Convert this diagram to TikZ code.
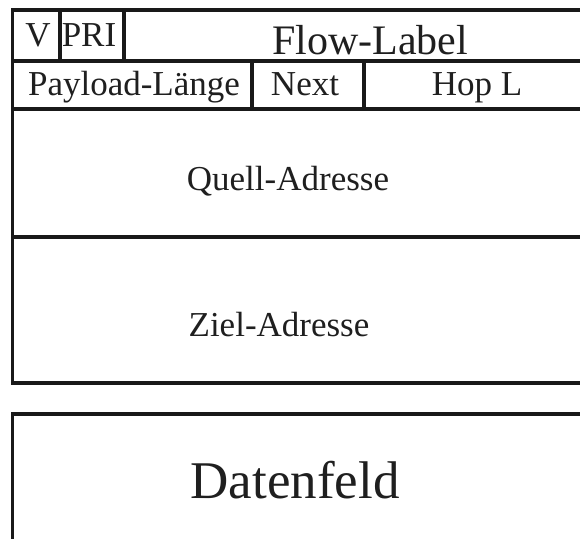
\documentclass[tikz,border=0pt]{standalone}
\usepackage{fontspec}
\setmainfont{Liberation Serif}
\begin{document}
\begin{tikzpicture}[x=1pt,y=-1pt,
  frame/.style={line width=3.8pt,draw=black!90},
  lbl/.style={inner sep=0pt,anchor=base,text=black!88},
  fmid/.style={lbl,font=\fontsize{35}{40}\selectfont},
  fbig/.style={lbl,font=\fontsize{42}{46}\selectfont},
  fhuge/.style={lbl,font=\fontsize{53}{58}\selectfont}]
\useasboundingbox (0,0) rectangle (580,538);
\clip (0,0) rectangle (580,538);
\fill[white] (0,0) rectangle (580,538);
% header frame
\draw[frame] (600,10) -- (12.5,10) -- (12.5,383) -- (600,383);
\draw[frame] (12.5,61) -- (600,61);
\draw[frame] (12.5,109) -- (600,109);
\draw[frame] (12.5,237) -- (600,237);
% dividers
\draw[frame] (60,10) -- (60,61);
\draw[frame] (124,10) -- (124,61);
\draw[frame] (252,61) -- (252,109);
\draw[frame] (364,61) -- (364,109);
% data field
\draw[frame] (600,414) -- (12.5,414) -- (12.5,560);
% labels
\node[fmid] (v) at (38,46) {V};
\node[fmid] (pri) at (89,46) {PRI};
\node[fbig] (flow) at (370,54) {Flow-Label};
\node[fmid] (plen) at (134,95) {Payload-Länge};
\node[fmid] (next) at (305,95) {Next};
\node[fmid] (hop) at (477,95) {Hop L};
\node[fmid] (src) at (288,190) {Quell-Adresse};
\node[fmid] (dst) at (279,336) {Ziel-Adresse};
\node[fhuge] (data) at (295,498) {Datenfeld};
\end{tikzpicture}
\end{document}
